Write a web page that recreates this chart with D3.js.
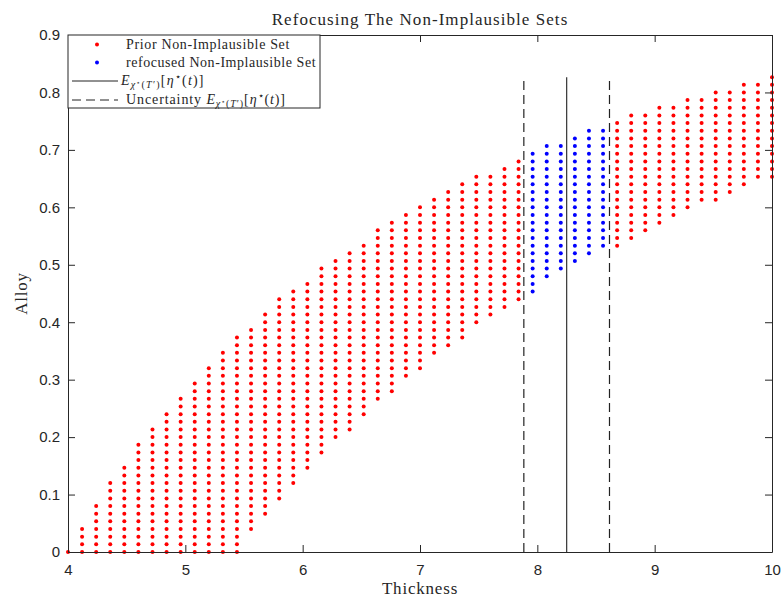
<!DOCTYPE html>
<html>
<head>
<meta charset="utf-8">
<script src="https://cdn.jsdelivr.net/npm/d3@7"></script>
<style>
  html, body { margin: 0; padding: 0; background: #fff; }
  svg { display: block; }
  .serif { font-family: "Liberation Serif", "DejaVu Serif", serif; fill: #262626; }
  .tick text { font-family: "Liberation Sans", Arial, sans-serif; font-size: 15px; fill: #262626; }
</style>
</head>
<body>
<svg id="chart" width="784" height="601"></svg>
<script>
// Thickness grid: one column of candidate points per value
const thickness = [4.00, 4.12, 4.24, 4.36, 4.48, 4.60, 4.72, 4.84, 4.96, 5.08,
                   5.20, 5.32, 5.44, 5.56, 5.68, 5.80, 5.92, 6.04, 6.16, 6.28,
                   6.40, 6.52, 6.64, 6.76, 6.88, 7.00, 7.12, 7.24, 7.36, 7.48,
                   7.60, 7.72, 7.84, 7.96, 8.08, 8.20, 8.32, 8.44, 8.56, 8.68,
                   8.80, 8.92, 9.04, 9.16, 9.28, 9.40, 9.52, 9.64, 9.76, 9.88, 10.00];
// Alloy grid spacing and the first / last non-implausible alloy row in each column
const alloyStep = 1 / 75;
const rowLow  = [0, 0, 0, 0, 0, 0, 0, 0, 0, 0, 0, 0, 0, 3, 5, 7, 9, 11, 13, 15,
                 16, 18, 20, 21, 23, 24, 26, 27, 28, 30, 31, 32, 33, 34, 36, 37, 38, 39, 40, 40,
                 41, 42, 43, 44, 45, 46, 46, 47, 48, 49, 49];
const rowHigh = [0, 3, 6, 9, 11, 14, 16, 18, 20, 22, 24, 26, 28, 29, 31, 33, 34, 35, 37, 38,
                 39, 40, 42, 43, 44, 45, 46, 47, 48, 49, 49, 50, 51, 52, 53, 53, 54, 55, 55, 56,
                 57, 57, 58, 58, 59, 59, 60, 60, 61, 61, 62];
// Expected thickness and its uncertainty interval
const expectedThickness = 8.25;
const uncertaintyBand = [7.885, 8.615];

const xTicks = [4, 5, 6, 7, 8, 9, 10];
const yTicks = [0, 0.1, 0.2, 0.3, 0.4, 0.5, 0.6, 0.7, 0.8, 0.9];

const legendLabels = ["Prior Non-Implausible Set", "refocused Non-Implausible Set"];

const svg = d3.select("#chart");
const margin = { left: 68, right: 12, top: 35, bottom: 49 };
const W = 784, H = 601;
const x = d3.scaleLinear().domain([4, 10]).range([margin.left, W - margin.right]);
const y = d3.scaleLinear().domain([0, 0.9]).range([H - margin.bottom, margin.top]);

// Build the point set
const points = [];
thickness.forEach((t, i) => {
  for (let k = rowLow[i]; k <= rowHigh[i]; k++) {
    const inBand = t >= uncertaintyBand[0] && t <= uncertaintyBand[1];
    points.push({ t, a: k * alloyStep, refocused: inBand });
  }
});
const alloyMax = d3.max(points, d => d.a);

// Points
svg.append("g").selectAll("circle").data(points).join("circle")
  .attr("cx", d => x(d.t)).attr("cy", d => y(d.a)).attr("r", 2)
  .attr("fill", d => d.refocused ? "#0000ff" : "#ff0000");

// Expected value and uncertainty lines
svg.append("line")
  .attr("x1", x(expectedThickness)).attr("x2", x(expectedThickness))
  .attr("y1", y(0)).attr("y2", y(alloyMax))
  .attr("stroke", "#333").attr("stroke-width", 1.2);
uncertaintyBand.forEach(v => {
  svg.append("line")
    .attr("x1", x(v)).attr("x2", x(v))
    .attr("y1", y(0)).attr("y2", y(alloyMax))
    .attr("stroke", "#222").attr("stroke-width", 1.2)
    .attr("stroke-dasharray", "9,5");
});

// Axes (ticks inward on all four sides)
const tl = 7;
const axB = svg.append("g").attr("transform", `translate(0,${y(0)})`)
  .call(d3.axisBottom(x).tickValues(xTicks).tickSizeInner(-tl).tickSizeOuter(0).tickPadding(12).tickFormat(d3.format("d")));
const axT = svg.append("g").attr("transform", `translate(0,${y(0.9)})`)
  .call(d3.axisTop(x).tickValues(xTicks).tickSizeInner(-tl).tickSizeOuter(0).tickFormat(""));
const axL = svg.append("g").attr("transform", `translate(${x(4)},0)`)
  .call(d3.axisLeft(y).tickValues(yTicks).tickSizeInner(-tl).tickSizeOuter(0).tickPadding(8).tickFormat(d => d === 0 ? "0" : d3.format(".1f")(d)));
const axR = svg.append("g").attr("transform", `translate(${x(10)},0)`)
  .call(d3.axisRight(y).tickValues(yTicks).tickSizeInner(-tl).tickSizeOuter(0).tickFormat(""));
[axB, axT, axL, axR].forEach(g => {
  g.select(".domain").attr("stroke", "#262626").attr("stroke-width", 1);
  g.selectAll(".tick line").attr("stroke", "#262626").attr("stroke-width", 1);
});
axB.selectAll(".tick text").attr("dy", "0.71em");

// Title and axis labels
svg.append("text").attr("class", "serif")
  .attr("x", (x(4) + x(10)) / 2).attr("y", 25)
  .attr("text-anchor", "middle").attr("font-size", 17).attr("letter-spacing", 1.05)
  .text("Refocusing The Non-Implausible Sets");
svg.append("text").attr("class", "serif")
  .attr("x", (x(4) + x(10)) / 2).attr("y", 594)
  .attr("text-anchor", "middle").attr("font-size", 17).attr("letter-spacing", 0.8)
  .text("Thickness");
svg.append("text").attr("class", "serif")
  .attr("transform", `translate(27,${(y(0) + y(0.9)) / 2}) rotate(-90)`)
  .attr("text-anchor", "middle").attr("font-size", 17).attr("letter-spacing", 0.8)
  .text("Alloy");

// Legend
const lg = svg.append("g");
lg.append("rect").attr("x", x(4)).attr("y", y(0.9)).attr("width", 252).attr("height", 73)
  .attr("fill", "#fff").attr("stroke", "#262626").attr("stroke-width", 1);
const fs = 14;
lg.append("circle").attr("cx", 97).attr("cy", 44.5).attr("r", 2).attr("fill", "#ff0000");
lg.append("circle").attr("cx", 97).attr("cy", 62.5).attr("r", 2).attr("fill", "#0000ff");
lg.append("text").attr("class", "serif").attr("x", 126).attr("y", 49).attr("font-size", fs).attr("letter-spacing", 0.65).text(legendLabels[0]);
lg.append("text").attr("class", "serif").attr("x", 126).attr("y", 67).attr("font-size", fs).attr("letter-spacing", 0.55).text(legendLabels[1]);
lg.append("line").attr("x1", 72).attr("x2", 118).attr("y1", 81).attr("y2", 81)
  .attr("stroke", "#222").attr("stroke-width", 1);
lg.append("line").attr("x1", 72).attr("x2", 118).attr("y1", 100).attr("y2", 100)
  .attr("stroke", "#222").attr("stroke-width", 1).attr("stroke-dasharray", "9,5");

// E_{chi*(T')}[eta*(t)] written with tspans
function mathLabel(sel, prefix) {
  if (prefix) sel.append("tspan").text(prefix + " ");
  sel.append("tspan").attr("font-style", "italic").text("E");
  sel.append("tspan").attr("font-size", 10).attr("dy", 3).attr("font-style", "italic").text("χ");
  sel.append("tspan").attr("font-size", 7).attr("dy", -3).text("⋆");
  sel.append("tspan").attr("font-size", 10).attr("dy", 3).text("(");
  sel.append("tspan").attr("font-size", 10).attr("font-style", "italic").text("T");
  sel.append("tspan").attr("font-size", 10).text("′)");
  sel.append("tspan").attr("dy", -3).text("[");
  sel.append("tspan").attr("font-style", "italic").text("η");
  sel.append("tspan").attr("font-size", 10).attr("dy", -5).text("⋆");
  sel.append("tspan").attr("dy", 5).text("(");
  sel.append("tspan").attr("font-style", "italic").text("t");
  sel.append("tspan").text(")]");
}
mathLabel(lg.append("text").attr("class", "serif").attr("x", 121).attr("y", 85).attr("font-size", fs).attr("letter-spacing", 1.2), null);
mathLabel(lg.append("text").attr("class", "serif").attr("x", 126).attr("y", 104).attr("font-size", fs).attr("letter-spacing", 0.9), "Uncertainty");
</script>
</body>
</html>
